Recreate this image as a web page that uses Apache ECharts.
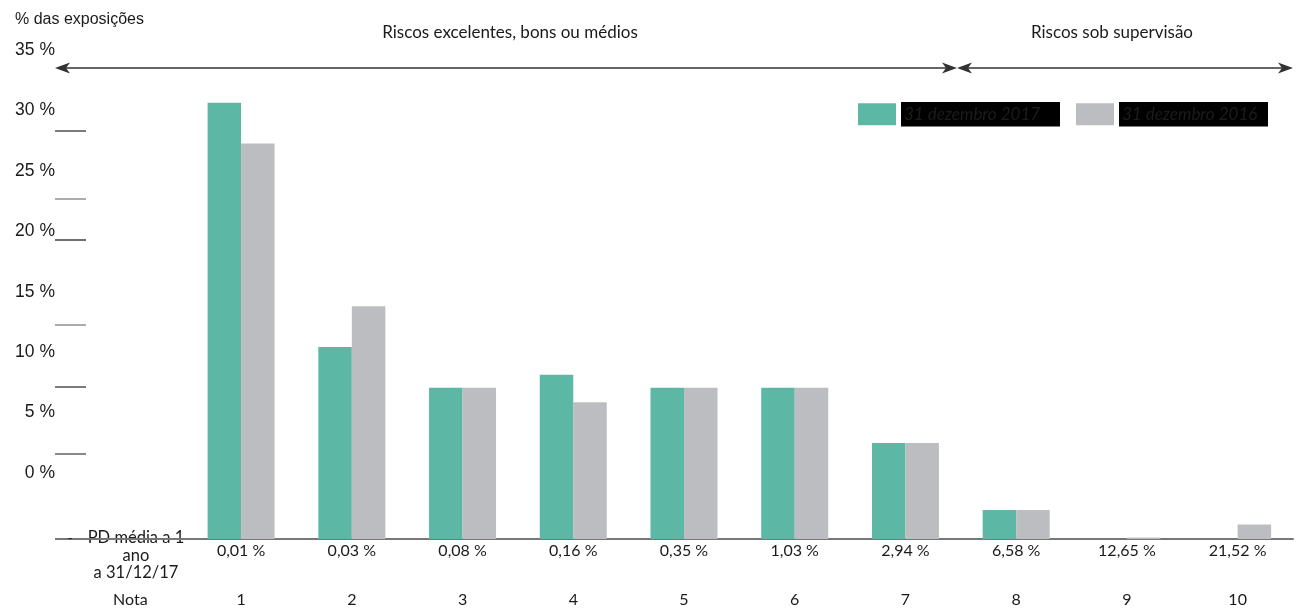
<!DOCTYPE html>
<html>
<head>
<meta charset="utf-8">
<script src="https://cdn.jsdelivr.net/npm/echarts@6/dist/echarts.min.js"></script>
<style>
  html, body { margin: 0; padding: 0; background: #fff; }
  #chart { width: 1302px; height: 612px; }
</style>
</head>
<body>
<div id="chart"></div>
<script>
// Rating grades (first slot holds the row captions)
const notes = ['Nota', '1', '2', '3', '4', '5', '6', '7', '8', '9', '10'];
// Average one-year PD per grade
const pdLabels = ['', '0,01 %', '0,03 %', '0,08 %', '0,16 %', '0,35 %', '1,03 %', '2,94 %', '6,58 %', '12,65 %', '21,52 %'];
// Share of exposures (%)
const exposures2017 = [null, 30.0, 13.2, 10.4, 11.3, 10.4, 10.4, 6.6, 2.0, 0, 0];
const exposures2016 = [null, 27.2, 16.0, 10.4, 9.4, 10.4, 10.4, 6.6, 2.0, 0.1, 1.0];
// Scale labels shown on the left
const scaleMin = 0, scaleMax = 35, scaleStep = 5;
const seriesNames = ['31 dezembro 2017', '31 dezembro 2016'];
const bandTitles = ['Riscos excelentes, bons ou médios', 'Riscos sob supervisão'];

const GREEN = '#5cb8a5';
const GREY = '#bcbdc1';
const INK = '#1a1a1a';
const LINE = '#333333';

const chart = echarts.init(document.getElementById('chart'));

// Filled "stealth" arrow head with its tip at (x, y); dir = -1 points left, 1 points right
function arrowHead(x, y, dir) {
  return {
    type: 'polygon',
    shape: { points: [[x, y], [x - dir * 15, y - 5.5], [x - dir * 11, y], [x - dir * 15, y + 5.5]] },
    style: { fill: LINE },
    silent: true
  };
}

const arrowY = 68;
const graphics = [
  // band arrows
  { type: 'line', shape: { x1: 58, y1: arrowY, x2: 954, y2: arrowY }, style: { stroke: LINE, lineWidth: 1.6 } },
  arrowHead(55, arrowY, -1),
  arrowHead(957, arrowY, 1),
  { type: 'line', shape: { x1: 960, y1: arrowY, x2: 1290, y2: arrowY }, style: { stroke: LINE, lineWidth: 1.6 } },
  arrowHead(957, arrowY, -1),
  arrowHead(1293, arrowY, 1),
  // band titles
  { type: 'text', x: 510, y: 33, style: { text: bandTitles[0], fill: INK, font: '17px Lato', textAlign: 'center', textVerticalAlign: 'middle' } },
  { type: 'text', x: 1112, y: 33, style: { text: bandTitles[1], fill: INK, font: '17px Lato', textAlign: 'center', textVerticalAlign: 'middle' } },
  // axis title
  { type: 'text', x: 15, y: 20, style: { text: '% das exposições', fill: INK, font: '16px "Liberation Sans"', textVerticalAlign: 'middle' } },
  // extension of the category axis line to the left
  { type: 'line', shape: { x1: 55, y1: 539, x2: 76, y2: 539 }, style: { stroke: '#777', lineWidth: 2 } },
  // row captions under the axis
  { type: 'text', x: 70, y: 538, style: { text: '-', fill: INK, font: '14px Lato', textAlign: 'center', textVerticalAlign: 'middle' } },
  { type: 'text', x: 136, y: 529, style: { text: 'PD média a 1\nano\na 31/12/17', fill: INK, font: '16.5px Lato', lineHeight: 17.5, textAlign: 'center', textVerticalAlign: 'top' } }
];

// short guide strokes next to the scale
[[131, '#444'], [199, '#888'], [240, '#333'], [325, '#888'], [387, '#444'], [454, '#555']].forEach(function (t) {
  graphics.push({ type: 'line', shape: { x1: 55, y1: t[0], x2: 86, y2: t[0] }, style: { stroke: t[1], lineWidth: 1.4 } });
});

const option = {
  animation: false,
  backgroundColor: '#ffffff',
  textStyle: { fontFamily: 'Lato' },
  legend: {
    left: 858,
    top: 102,
    padding: 0,
    itemWidth: 38,
    itemHeight: 22,
    itemGap: 16,
    icon: 'rect',
    selectedMode: false,
    data: [
      { name: seriesNames[0], textStyle: { width: 153 } },
      { name: seriesNames[1], textStyle: { width: 143 } }
    ],
    textStyle: {
      fontFamily: 'Lato',
      fontStyle: 'italic',
      fontSize: 17,
      color: '#1c1c1c',
      backgroundColor: '#000000',
      padding: [3, 3, 3, 3],
      lineHeight: 18.5
    }
  },
  grid: [
    { left: 75, right: 9, top: 30, bottom: 73 },
    { left: 58, width: 10, top: 50, bottom: 139 }
  ],
  xAxis: [
    {
      type: 'category',
      gridIndex: 0,
      data: pdLabels,
      axisLine: { lineStyle: { color: '#777', width: 2 } },
      axisTick: { show: false },
      axisLabel: { color: INK, fontFamily: 'Lato', fontSize: 16, margin: 4, interval: 0 }
    },
    {
      type: 'category',
      gridIndex: 0,
      position: 'bottom',
      offset: 48,
      data: notes,
      axisLine: { show: false },
      axisTick: { show: false },
      axisLabel: { color: INK, fontFamily: 'Lato', fontSize: 16, margin: 5, interval: 0 }
    },
    { type: 'value', gridIndex: 1, show: false }
  ],
  yAxis: [
    { type: 'value', gridIndex: 0, min: scaleMin, max: scaleMax, show: false },
    {
      type: 'value',
      gridIndex: 1,
      min: scaleMin,
      max: scaleMax,
      interval: scaleStep,
      axisLine: { show: false },
      axisTick: { show: false },
      splitLine: { show: false },
      axisLabel: {
        color: INK,
        fontFamily: 'Liberation Sans',
        fontSize: 17.5,
        margin: 3,
        formatter: function (v) { return v + ' %'; }
      }
    }
  ],
  series: [
    {
      name: seriesNames[0],
      type: 'bar',
      xAxisIndex: 0,
      yAxisIndex: 0,
      data: exposures2017,
      barWidth: 33.5,
      barGap: '0%',
      itemStyle: { color: GREEN },
      emphasis: { disabled: true }
    },
    {
      name: seriesNames[1],
      type: 'bar',
      xAxisIndex: 0,
      yAxisIndex: 0,
      data: exposures2016,
      barWidth: 33.5,
      barGap: '0%',
      itemStyle: { color: GREY },
      emphasis: { disabled: true }
    }
  ],
  graphic: graphics
};

chart.setOption(option);
</script>
</body>
</html>
